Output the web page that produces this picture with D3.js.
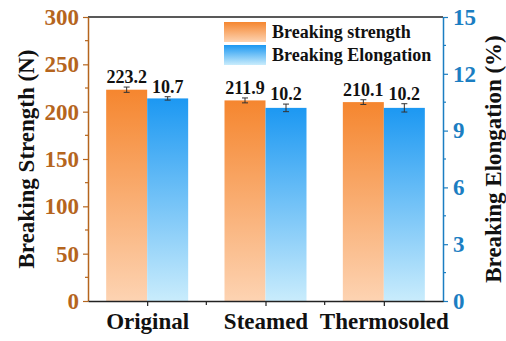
<!DOCTYPE html>
<html>
<head>
<meta charset="utf-8">
<script src="https://cdn.jsdelivr.net/npm/d3@7/dist/d3.min.js"></script>
</head>
<body style="margin:0;background:#fff">
<svg id="chart" width="506" height="341"></svg>
<script>
// Fabric treatments and measured properties
const categories = ["Original", "Steamed", "Thermosoled"];
const strength = [223.2, 211.9, 210.1];
const strengthErr = [2.8, 2.6, 2.5];
const elongation = [10.7, 10.2, 10.2];
const elongationErr = [0.09, 0.2, 0.22];
const leftTicks = [0, 50, 100, 150, 200, 250, 300];
const rightTicks = [0, 3, 6, 9, 12, 15];

const FONT = "Liberation Serif";
const svg = d3.select("#chart");
const m = { left: 88, right: 443, top: 17, bottom: 301 };
const leftColor = "#b5651d";
const rightColor = "#1b7ec2";

const defs = svg.append("defs");
function grad(id, top, bottom) {
  const g = defs.append("linearGradient").attr("id", id)
    .attr("x1", 0).attr("y1", 0).attr("x2", 0).attr("y2", 1);
  g.append("stop").attr("offset", "0%").attr("stop-color", top);
  g.append("stop").attr("offset", "100%").attr("stop-color", bottom);
}
grad("gOrange", "#f5862f", "#fdd3b2");
grad("gBlue", "#1c98f2", "#c9ecfc");

const x = d3.scaleLinear().domain([0.5, 3.5]).range([m.left, m.right]);
const yL = d3.scaleLinear().domain([0, 300]).range([m.bottom, m.top]);
const yR = d3.scaleLinear().domain([0, 15]).range([m.bottom, m.top]);
const barW = 41;

function label(parent, txt, size) {
  return parent.append("text").attr("font-family", FONT).attr("font-weight", "bold")
    .attr("font-size", size).attr("fill", "#111").text(txt);
}

// bars
const g = svg.append("g");
categories.forEach((c, i) => {
  const cx = x(i + 1);
  g.append("rect").attr("x", cx - barW).attr("width", barW)
    .attr("y", yL(strength[i])).attr("height", yL(0) - yL(strength[i]))
    .attr("fill", "url(#gOrange)");
  g.append("rect").attr("x", cx).attr("width", barW)
    .attr("y", yR(elongation[i])).attr("height", yR(0) - yR(elongation[i]))
    .attr("fill", "url(#gBlue)");
});

// error bars and value labels
function errBar(cx, y0, y1) {
  const e = g.append("g").attr("stroke", "#333").attr("stroke-width", 1);
  e.append("line").attr("x1", cx).attr("x2", cx).attr("y1", y0).attr("y2", y1);
  e.append("line").attr("x1", cx - 3).attr("x2", cx + 3).attr("y1", y0).attr("y2", y0);
  e.append("line").attr("x1", cx - 3).attr("x2", cx + 3).attr("y1", y1).attr("y2", y1);
}
categories.forEach((c, i) => {
  const cx = x(i + 1);
  errBar(cx - barW / 2, yL(strength[i] + strengthErr[i]), yL(strength[i] - strengthErr[i]));
  errBar(cx + barW / 2, yR(elongation[i] + elongationErr[i]), yR(elongation[i] - elongationErr[i]));
  label(g, strength[i].toFixed(1), 18).attr("x", cx - barW / 2)
    .attr("y", yL(strength[i] + strengthErr[i]) - 4).attr("text-anchor", "middle");
  label(g, elongation[i].toFixed(1), 18).attr("x", cx + barW / 2)
    .attr("y", yR(elongation[i] + elongationErr[i]) - 4).attr("text-anchor", "middle");
});

// frame top
svg.append("line").attr("x1", m.left).attr("x2", m.right).attr("y1", m.top).attr("y2", m.top)
  .attr("stroke", "#222").attr("stroke-width", 1.5);

function styleTicks(sel, color) {
  sel.attr("font-family", FONT).attr("font-size", 23).attr("font-weight", "bold");
  sel.selectAll("text").attr("fill", color).attr("font-family", FONT)
    .attr("font-size", 23).attr("font-weight", "bold");
}

// left axis
const aL = svg.append("g").attr("transform", `translate(${m.left},0)`)
  .call(d3.axisLeft(yL).tickValues(leftTicks).tickSize(5).tickPadding(4).tickSizeOuter(0));
aL.append("g").selectAll("line").data(d3.range(25, 300, 50)).join("line")
  .attr("x1", 0).attr("x2", -3).attr("y1", d => yL(d)).attr("y2", d => yL(d));
aL.selectAll("line").attr("stroke", leftColor).attr("stroke-width", 1.2);
aL.select(".domain").attr("stroke", leftColor).attr("stroke-width", 1.5);
styleTicks(aL, leftColor);

// right axis
const aR = svg.append("g").attr("transform", `translate(${m.right},0)`)
  .call(d3.axisRight(yR).tickValues(rightTicks).tickSize(5).tickPadding(5).tickSizeOuter(0));
aR.append("g").selectAll("line").data(d3.range(1.5, 15, 3)).join("line")
  .attr("x1", 0).attr("x2", 3).attr("y1", d => yR(d)).attr("y2", d => yR(d));
aR.selectAll("line").attr("stroke", rightColor).attr("stroke-width", 1.2);
aR.select(".domain").attr("stroke", rightColor).attr("stroke-width", 1.5);
styleTicks(aR, rightColor);

// bottom axis
const aB = svg.append("g").attr("transform", `translate(0,${m.bottom})`)
  .call(d3.axisBottom(x).tickValues([1, 2, 3]).tickFormat((d, i) => categories[i])
    .tickSize(5).tickPadding(7).tickSizeOuter(0));
aB.append("g").selectAll("line").data([1.5, 2.5]).join("line")
  .attr("x1", d => x(d)).attr("x2", d => x(d)).attr("y1", 0).attr("y2", 4);
aB.selectAll("line").attr("stroke", "#222").attr("stroke-width", 1.2);
aB.select(".domain").attr("stroke", "#222").attr("stroke-width", 1.5);
styleTicks(aB, "#111");

// axis titles
label(svg, "Breaking Strength (N)", 23)
  .attr("transform", `translate(34,${(m.top + m.bottom) / 2}) rotate(-90)`)
  .attr("text-anchor", "middle");
label(svg, "Breaking Elongation (%)", 23)
  .attr("transform", `translate(501,${(m.top + m.bottom) / 2}) rotate(-90)`)
  .attr("text-anchor", "middle");

// legend
const legend = [
  { label: "Breaking strength", fill: "url(#gOrange)" },
  { label: "Breaking Elongation", fill: "url(#gBlue)" }
];
const lg = svg.append("g").attr("transform", "translate(224,22)");
legend.forEach((d, i) => {
  lg.append("rect").attr("x", 0).attr("y", i * 23).attr("width", 42).attr("height", 20).attr("fill", d.fill);
  label(lg, d.label, 18).attr("x", 48).attr("y", i * 23 + 16);
});
</script>
</body>
</html>
